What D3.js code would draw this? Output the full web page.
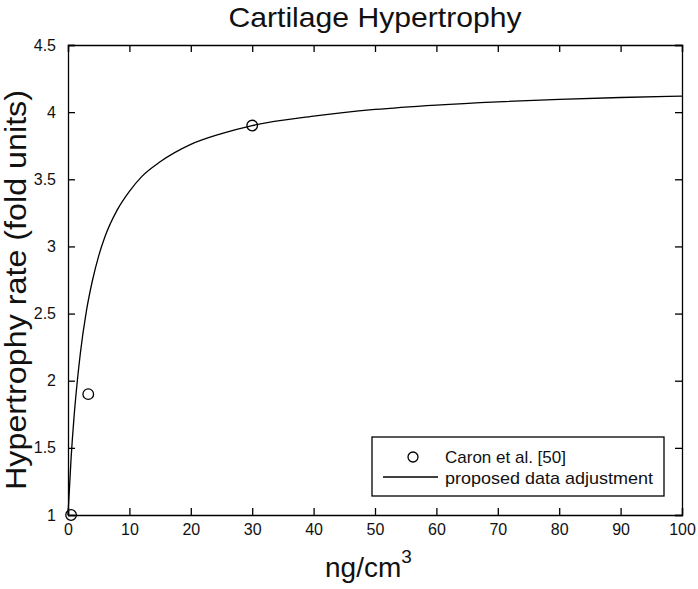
<!DOCTYPE html>
<html>
<head>
<meta charset="utf-8">
<script src="https://cdn.jsdelivr.net/npm/d3@7"></script>
<style>
  body { margin: 0; background: #fff; }
  text { font-family: "Liberation Sans", Arial, sans-serif; fill: #111; }
</style>
</head>
<body>
<div id="chart"></div>
<script>
// Data
const curveX = [0, 0.5, 1, 1.5, 2, 3, 4, 5, 6, 8, 10, 12, 15, 20, 25, 30, 40, 50, 60, 70, 80, 90, 100];
const curveY = [1.0, 1.42, 1.74, 1.99, 2.2, 2.52, 2.75, 2.93, 3.07, 3.27, 3.41, 3.52, 3.63, 3.76, 3.84, 3.9, 3.97, 4.02, 4.053, 4.077, 4.095, 4.109, 4.12];
const caronX = [0.5, 3.3, 30];
const caronY = [1.0, 1.9, 3.9];
const xTicks = [0, 10, 20, 30, 40, 50, 60, 70, 80, 90, 100];
const yTicks = [1, 1.5, 2, 2.5, 3, 3.5, 4, 4.5];

const width = 698;
const height = 589;
const margin = { top: 45, right: 16, bottom: 74, left: 68 };

const svg = d3.select('#chart').append('svg')
    .attr('width', width)
    .attr('height', height);

const x = d3.scaleLinear()
    .domain([0, 100])
    .range([margin.left, width - margin.right]);

const y = d3.scaleLinear()
    .domain([1, 4.5])
    .range([height - margin.bottom, margin.top]);

const tickLen = 7;
const tickFmt = d => String(d);

// axes: ticks point inward on all four sides
svg.append('g')
    .attr('transform', `translate(0, ${y(1)})`)
    .call(d3.axisBottom(x).tickValues(xTicks).tickSize(-tickLen).tickPadding(9).tickFormat(tickFmt))
    .call(g => g.selectAll('text').style('font-size', '16px'));

svg.append('g')
    .attr('transform', `translate(0, ${y(4.5)})`)
    .call(d3.axisTop(x).tickValues(xTicks).tickSize(-tickLen).tickFormat(''));

svg.append('g')
    .attr('transform', `translate(${x(0)}, 0)`)
    .call(d3.axisLeft(y).tickValues(yTicks).tickSize(-tickLen).tickPadding(12).tickFormat(tickFmt))
    .call(g => g.selectAll('text').style('font-size', '16px'));

svg.append('g')
    .attr('transform', `translate(${x(100)}, 0)`)
    .call(d3.axisRight(y).tickValues(yTicks).tickSize(-tickLen).tickFormat(''));

svg.selectAll('.domain').attr('stroke', '#000').attr('stroke-width', 1.3);
svg.selectAll('.tick line').attr('stroke', '#000').attr('stroke-width', 1.3);
svg.selectAll('.tick text').attr('fill', '#111').style('font-family', '"Liberation Sans", Arial, sans-serif');

// fitted curve
const line = d3.line()
    .x(d => x(d[0]))
    .y(d => y(d[1]))
    .curve(d3.curveMonotoneX);

svg.append('path')
    .datum(d3.zip(curveX, curveY))
    .attr('fill', 'none')
    .attr('stroke', '#000')
    .attr('stroke-width', 1.3)
    .attr('d', line);

// measured points
svg.selectAll('.pt')
    .data(d3.zip(caronX, caronY))
    .enter().append('circle')
    .attr('class', 'pt')
    .attr('cx', d => x(d[0]))
    .attr('cy', d => y(d[1]))
    .attr('r', 5.3)
    .attr('fill', 'none')
    .attr('stroke', '#000')
    .attr('stroke-width', 1.3);

// title and labels
svg.append('text')
    .attr('x', 375)
    .attr('y', 27)
    .attr('text-anchor', 'middle')
    .style('font-size', '28px')
    .attr('textLength', 293)
    .attr('lengthAdjust', 'spacingAndGlyphs')
    .text('Cartilage Hypertrophy');

svg.append('text')
    .attr('transform', 'translate(26, 290) rotate(-90)')
    .attr('text-anchor', 'middle')
    .style('font-size', '29px')
    .attr('textLength', 400)
    .attr('lengthAdjust', 'spacingAndGlyphs')
    .text('Hypertrophy rate (fold units)');

const xl = svg.append('text')
    .attr('x', 325)
    .attr('y', 577)
    .style('font-size', '28px');
xl.append('tspan').text('ng/cm');
xl.append('tspan')
    .attr('dy', -14)
    .style('font-size', '19px')
    .text('3');

// legend
const lg = svg.append('g');
lg.append('rect')
    .attr('x', 372).attr('y', 437)
    .attr('width', 292).attr('height', 59)
    .attr('fill', '#fff')
    .attr('stroke', '#000')
    .attr('stroke-width', 1.3);
lg.append('circle')
    .attr('cx', 413).attr('cy', 457).attr('r', 5)
    .attr('fill', 'none').attr('stroke', '#000').attr('stroke-width', 1.3);
lg.append('text')
    .attr('x', 445).attr('y', 463)
    .style('font-size', '17px')
    .text('Caron et al. [50]');
lg.append('line')
    .attr('x1', 383).attr('x2', 438)
    .attr('y1', 477).attr('y2', 477)
    .attr('stroke', '#000').attr('stroke-width', 1.3);
lg.append('text')
    .attr('x', 445).attr('y', 484)
    .style('font-size', '17px')
    .attr('textLength', 208)
    .attr('lengthAdjust', 'spacingAndGlyphs')
    .text('proposed data adjustment');
</script>
</body>
</html>
